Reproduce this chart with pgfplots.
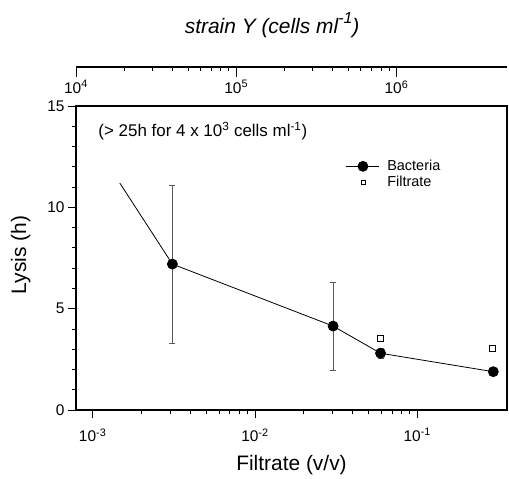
\documentclass[border=0pt]{standalone}
\usepackage{pgfplots}
\pgfplotsset{compat=1.18}
\usepackage{fontspec}
\setmainfont{Liberation Sans}

\newcommand{\tickfont}{\fontsize{15.5}{17}\selectfont}
\newcommand{\labfont}{\fontsize{21}{24}\selectfont}
\newcommand{\legfont}{\fontsize{14.5}{16}\selectfont}

\begin{document}
\begin{tikzpicture}
% frame of the reference image (509 x 478)
\path (-76bp,-68bp) rectangle (433bp,410bp);

\begin{axis}[
    scale only axis,
    width=431bp, height=304bp,
    clip=false,
    xmode=log, xmin=7.9e-4, xmax=0.357,
    ymin=0, ymax=15,
    ytick={0,5,10,15}, minor y tick num=4,
    xtick={1e-3,1e-2,1e-1},
    xticklabels={10\textsuperscript{-3},10\textsuperscript{-2},10\textsuperscript{-1}},
    xtick pos=bottom, ytick pos=left,
    tick align=outside,
    major tick length=8bp, minor tick length=4bp,
    tick style={black, line width=0.8bp},
    axis line style={line width=1.4bp},
    ticklabel style={font=\tickfont},
    /pgf/number format/assume math mode=true,
    xticklabel style={yshift=-7bp},
    xlabel={Filtrate (v/v)},
    ylabel={Lysis (h)},
    label style={font=\labfont},
    xlabel style={at={(axis description cs:0.5,-0.181)}, anchor=center},
    ylabel style={at={(axis description cs:-0.128,0.51)}, anchor=center, rotate=0},
    legend style={draw=none, fill=none, at={(axis description cs:0.618,0.835)},
        anchor=north west, font=\legfont,
        cells={anchor=west, font=\legfont}, row sep=0bp,
        /tikz/every odd column/.style={column sep=6bp}},
]
\addplot[forget plot, black, line width=0.8bp] coordinates {(1.47e-3,11.2) (3.1e-3,7.2)};
\addplot[black, line width=0.8bp, mark=*, mark size=5bp, mark options={fill=black},
    legend image code/.code={
        \draw[black, line width=0.8bp] (0bp,0bp) -- (33bp,0bp);
        \fill[black] (17bp,0bp) circle (5bp);},
    error bars/.cd, y dir=both, y explicit,
    error bar style={black!65, line width=0.6bp},
    error mark options={rotate=90, mark size=3bp, black!65, line width=0.6bp}]
    coordinates {
    (3.1e-3,7.2)  +- (0,3.9)
    (3.03e-2,4.14) +- (0,2.17)
    (5.94e-2,2.8) +- (0,0.26)
    (0.294,1.89)  +- (0,0)
};
\addlegendentry{\legfont Bacteria}
\addplot[only marks, black, mark=square, mark size=3bp, line width=0.6bp,
    legend image code/.code={
        \draw[black, line width=0.6bp] (15bp,-2.2bp) rectangle (19.4bp,2.2bp);}]
    coordinates {(5.94e-2,3.52) (0.29,3.06)};
\addlegendentry{\legfont Filtrate}
\node[anchor=west, font=\fontsize{17}{19}\selectfont]
    at (axis description cs:0.044,0.918)
    {(> 25h for 4 x 10\textsuperscript{3} cells ml\textsuperscript{-1})};
\node[font=\labfont\itshape] at (axis description cs:0.455,1.266)
    {strain Y (cells ml\raisebox{0.45em}{\fontsize{16}{16}\selectfont -1})};
\end{axis}

\begin{axis}[
    at={(0bp,343bp)}, anchor=south west,
    scale only axis,
    width=431bp, height=10bp,
    xmode=log, xmin=1e4, xmax=4.9e6,
    ymin=0, ymax=1,
    axis x line*=bottom, hide y axis,
    axis line style={-, line width=1.4bp},
    xtick={1e4,1e5,1e6},
    xticklabels={10\textsuperscript{4},10\textsuperscript{5},10\textsuperscript{6}},
    tick align=outside,
    major tick length=10bp, minor tick length=4bp,
    tick style={black, line width=0.8bp},
    ticklabel style={font=\tickfont},
]
\addplot[draw=none] coordinates {(1e5,0.5)};
\end{axis}
\end{tikzpicture}
\end{document}
